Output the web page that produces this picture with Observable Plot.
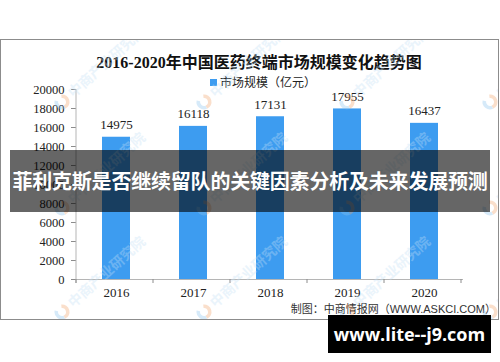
<!DOCTYPE html>
<html>
<head>
<meta charset="utf-8">
<script src="https://cdn.jsdelivr.net/npm/d3@7"></script>
<script src="https://cdn.jsdelivr.net/npm/@observablehq/plot@0.6"></script>
<style>
  html, body { margin: 0; padding: 0; background: #fff; }
  #wrap { position: relative; width: 500px; height: 362px; overflow: hidden; background: #fff; }
  #wrap > * { position: absolute; }
  #frame { left: 0; top: 39px; width: 497px; height: 279px; border: 1px solid #8c8c8c; }
  #title { left: 0; width: 518px; top: 49px; text-align: center; font: bold 16px "Liberation Serif", "Noto Sans CJK SC", serif; color: #111; }
  #legend { left: 210px; top: 73px; font: 12px "Noto Sans CJK SC", sans-serif; color: #222; white-space: nowrap; }
  #legend i { display: inline-block; width: 7px; height: 7px; background: #3d9cf0; margin-right: 3px; vertical-align: 1px; }
  #source { right: 4px; top: 300px; font: 11px "Liberation Sans", "Noto Sans CJK SC", sans-serif; color: #333; white-space: nowrap; }
  #banner { left: 10px; top: 150px; width: 480px; height: 62px; background: rgba(0,0,0,0.6); color: #fff;
            font: bold 20px "Noto Sans CJK SC", sans-serif; line-height: 62px; text-align: center; white-space: nowrap; letter-spacing: -0.2px; }
  #site { left: 328px; top: 315px; width: 163px; height: 38px; background: #000; color: #fff;
          font: bold 18px "Open Sans", "DejaVu Sans", sans-serif; line-height: 38px; text-align: center; white-space: nowrap; }
  #wm { left: 0; top: 0; }
</style>
</head>
<body>
<div id="wrap">
  <div id="frame"></div>
  <div id="chart" style="left:0;top:0"></div>
  <div id="title">2016-2020年中国医药终端市场规模变化趋势图</div>
  <div id="legend"><i></i>市场规模（亿元）</div>
  <div id="source">制图：中商情报网（WWW.ASKCI.COM）</div>
  <svg id="wm" width="500" height="362"></svg>
  <div id="banner">菲利克斯是否继续留队的关键因素分析及未来发展预测</div>
  <div id="site">www.lite--j9.com</div>
</div>
<script>
const years = ["2016", "2017", "2018", "2019", "2020"];
const values = [14975, 16118, 17131, 17955, 16437];
const yTicks = [0, 2000, 4000, 6000, 8000, 10000, 12000, 14000, 16000, 18000, 20000];
const watermarkText = "中商产业研究院";

const data = years.map((year, i) => ({year, value: values[i]}));

const chart = Plot.plot({
  width: 500,
  height: 362,
  marginLeft: 76,
  marginRight: 37,
  marginTop: 89,
  marginBottom: 83,
  style: {background: "transparent", fontFamily: "'Liberation Serif', serif", color: "#222"},
  x: {domain: years, paddingInner: 0.64, paddingOuter: 0.32, axis: null, label: null},
  y: {domain: [0, 20000], axis: null, label: null},
  marks: [
    Plot.barY(data, {x: "year", y: "value", fill: "#3d9cf0"}),
    Plot.text(data, {x: "year", y: "value", text: d => String(d.value), dy: -8, lineAnchor: "bottom", fontSize: 13, fill: "#222"}),
    Plot.axisY({ticks: yTicks, tickSize: 5, tickPadding: 7, fontSize: 12.5, stroke: "#8c8c8c", fill: "#222", tickFormat: d => String(d), label: null}),
    Plot.axisX({tickSize: 0, tickPadding: 8, fontSize: 13, fill: "#222", label: null}),
    Plot.ruleY([0], {stroke: "#b5b5b5"})
  ]
});
document.getElementById("chart").appendChild(chart);

// y axis line and category boundary ticks, from the plot's scales
const xs = chart.scale("x"), ys = chart.scale("y");
const svg = d3.select(chart);
const y0 = ys.apply(0), yTop = ys.apply(20000);
const x0 = xs.range[0], step = xs.step;
const g = svg.append("g");
g.append("line").attr("x1", x0).attr("x2", x0).attr("y1", yTop).attr("y2", y0 + 4).attr("stroke", "#b5b5b5");
for (let i = 0; i <= years.length; i++) {
  const x = x0 + i * step;
  g.append("line").attr("x1", x).attr("x2", x).attr("y1", y0).attr("y2", y0 + 4).attr("stroke", "#8c8c8c");
}

// watermark grid (faint)
const wm = d3.select("#wm");
wm.append("clipPath").attr("id", "fc").append("rect").attr("x", 1).attr("y", 40).attr("width", 497).attr("height", 279);
const wg = wm.append("g").attr("clip-path", "url(#fc)");
const cols = [62, 204, 347, 490];
const rows = [102, 208, 312];
for (const cy of rows) for (const cx of cols) {
  const t = wg.append("g").attr("transform", `translate(${cx},${cy}) rotate(-42)`).attr("opacity", 0.35);
  t.append("path").attr("d", d3.arc()({innerRadius: 4, outerRadius: 7.5, startAngle: Math.PI * 0.2, endAngle: Math.PI * 1.1})).attr("fill", "#f3a46d");
  t.append("path").attr("d", d3.arc()({innerRadius: 4, outerRadius: 7.5, startAngle: Math.PI * 1.1, endAngle: Math.PI * 1.8})).attr("fill", "#8cc4ef");
  t.append("text").attr("x", 11).attr("y", 5).attr("font-size", 14).attr("font-weight", "bold")
    .attr("font-family", "'Noto Sans CJK SC', sans-serif").attr("fill", "#c4e0f6").text(watermarkText);
}
</script>
</body>
</html>
